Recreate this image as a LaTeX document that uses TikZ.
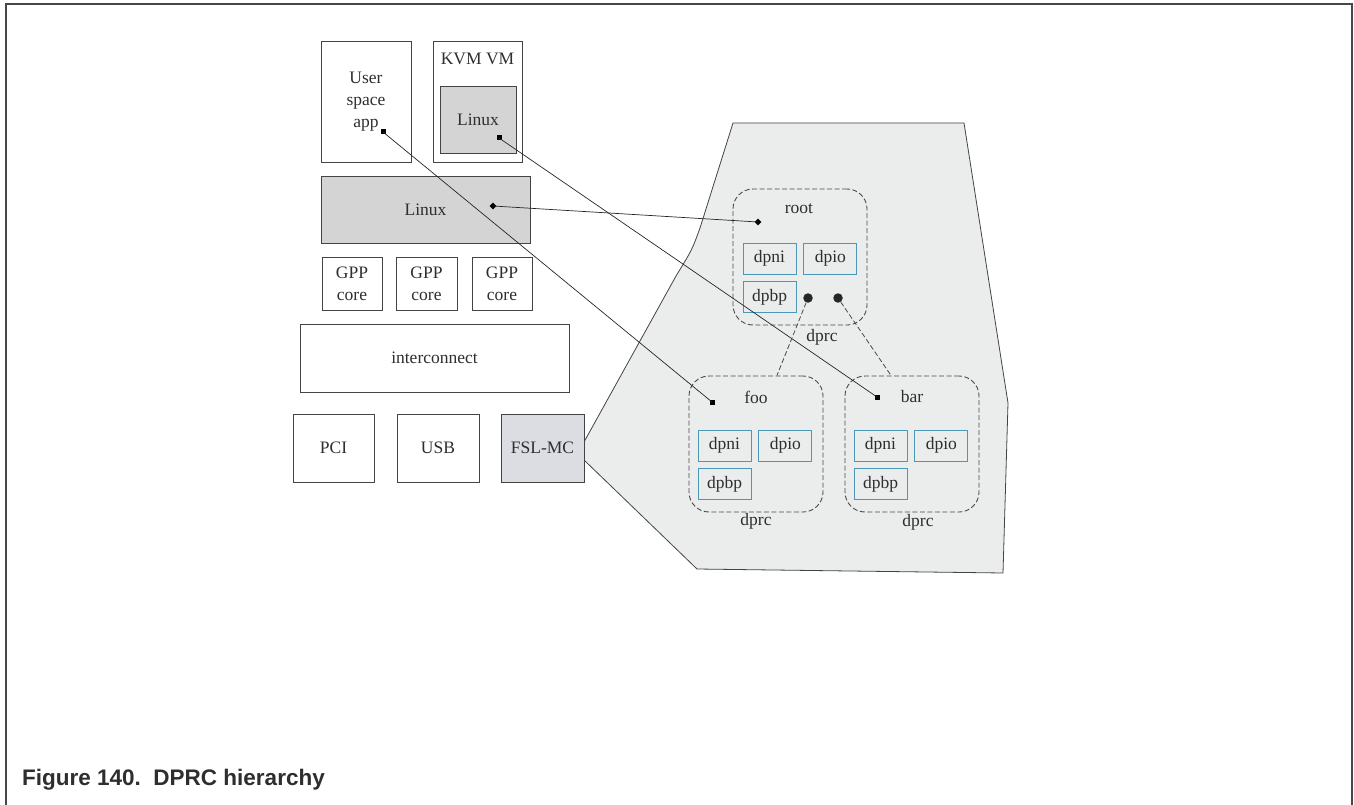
\documentclass[tikz,border=0pt]{standalone}
\usepackage{fontspec}
\setmainfont{Liberation Serif}
\newfontfamily\captionfont{Liberation Sans}
\usetikzlibrary{shapes.geometric, positioning}

\definecolor{linegray}{HTML}{444444}
\definecolor{textgray}{HTML}{2E2E2E}
\definecolor{linuxgray}{HTML}{D4D4D4}
\definecolor{fslgray}{HTML}{DCDDE2}
\definecolor{areagray}{HTML}{EBECEC}
\definecolor{dashgray}{HTML}{4A4A4A}
\definecolor{objblue}{HTML}{4A97B6}
\definecolor{framegray}{HTML}{474747}

\tikzstyle{block} = [
    rectangle,
    draw=linegray,
    line width=0.8pt,
    inner sep=0pt,
    align=center,
    text=textgray
]
\tikzstyle{grayblock} = [block, fill=linuxgray]
\tikzstyle{container} = [
    rectangle,
    rounded corners=20pt,
    draw=dashgray,
    dash pattern=on 5pt off 2.5pt,
    line width=0.9pt,
    minimum width=134pt,
    minimum height=136pt
]
\tikzstyle{obj} = [
    rectangle,
    draw=objblue,
    line width=0.9pt,
    minimum width=53pt,
    minimum height=31pt,
    inner sep=0pt,
    text=textgray
]
\tikzstyle{label} = [text=textgray, inner sep=0pt]
\tikzstyle{endmark} = [rectangle, fill=black, minimum size=5pt, inner sep=0pt]
\tikzstyle{endmarkd} = [diamond, fill=black, minimum size=7pt, inner sep=0pt]
\tikzstyle{joint} = [circle, fill=black!85, minimum size=9.5pt, inner sep=0pt]
\tikzstyle{link} = [line width=0.7pt, draw=black!85]
\tikzstyle{sublink} = [line width=0.8pt, draw=dashgray, dash pattern=on 5pt off 2.5pt]

\begin{document}
\begin{tikzpicture}[x=1pt, y=-1pt, node distance=7pt,
    font=\fontsize{17.5}{22}\selectfont]

\useasboundingbox (0,0) rectangle (1354,805);

% page frame
\draw[framegray, line width=2pt] (6,805) -- (6,4) -- (1352,4) -- (1352,805);

% management complex area
\fill[areagray, draw=linegray, line width=0.8pt]
    (733,123) -- (964,123) -- (1008,403) -- (1003,573) -- (697,569)
    -- (584,460) -- (584,442) -- (676,276)
    .. controls (692,250) .. (700,228) -- cycle;

% software stack
\node (app) [block, minimum width=90pt, minimum height=121pt] at (366,101.5)
{User\\space\\app};
\node (kvm) [block, minimum width=89pt, minimum height=121pt] at (477.5,101.5) {};
\node (kvmname) [label] at (477.5,59) {KVM VM};
\node (guest) [grayblock, minimum width=76pt, minimum height=67pt] at (478,119.5)
{Linux};
\node (host) [grayblock, minimum width=209pt, minimum height=67pt] at (425.5,209.5)
{Linux};

% hardware
\node (core1) [block, minimum width=60pt, minimum height=53pt] at (352,283.5)
{GPP\\core};
\node (core2) [block, minimum width=61pt, minimum height=53pt] at (426.5,283.5)
{GPP\\core};
\node (core3) [block, minimum width=60pt, minimum height=53pt] at (502,283.5)
{GPP\\core};
\node (interconnect) [block, minimum width=269pt, minimum height=68pt] at (434.5,358)
{interconnect};
\node (pci) [block, minimum width=81pt, minimum height=68pt] at (333.5,448) {PCI};
\node (usb) [block, minimum width=82pt, minimum height=68pt] at (438,448) {USB};
\node (fslmc) [block, fill=fslgray, minimum width=83pt, minimum height=68pt]
at (542.5,448) {FSL-MC};

% root container
\node (root) [container] at (800,257) {};
\node (rootname) [label] at (799,209) {root};
\node (rootdpni) [obj] at (769.5,258.5) {dpni};
\node (rootdpio) [obj, right=of rootdpni] {dpio};
\node (rootdpbp) [obj, below=of rootdpni] {dpbp};
\node (jfoo) [joint] at (808,298) {};
\node (jbar) [joint] at (838,298) {};
\node (rootcap) [label] at (822,337) {dprc};

% foo container
\node (foo) [container] at (756,444) {};
\node (fooname) [label] at (756,397) {foo};
\node (foodpni) [obj] at (724.5,445.5) {dpni};
\node (foodpio) [obj, right=of foodpni] {dpio};
\node (foodpbp) [obj, below=of foodpni] {dpbp};
\node (foocap) [label] at (756,521) {dprc};

% bar container
\node (bar) [container] at (912,444) {};
\node (barname) [label] at (912,397) {bar};
\node (bardpni) [obj] at (880.5,445.5) {dpni};
\node (bardpio) [obj, right=of bardpni] {dpio};
\node (bardpbp) [obj, below=of bardpni] {dpbp};
\node (barcap) [label] at (918,522) {dprc};

% end marks
\node (appdot) [endmark] at (383,132) {};
\node (guestdot) [endmark] at (499,138) {};
\node (hostdot) [endmarkd] at (493,206) {};
\node (rootdot) [endmarkd] at (758,222) {};
\node (foodot) [endmark] at (712,402) {};
\node (bardot) [endmark] at (877,397) {};

% connections
\draw [link] (hostdot.center) -- (rootdot.center);
\draw [link] (appdot.center) -- (foodot.center);
\draw [link] (guestdot.center) -- (bardot.center);
\draw [sublink] (jfoo) -- (foo.73);
\draw [sublink] (jbar) -- (bar.107);

% caption
\node (caption) [anchor=base west, inner sep=0pt, text=textgray,
    font=\captionfont\bfseries\fontsize{22.5}{26}\selectfont] at (22,785)
{Figure 140.\hspace{12.5pt}DPRC hierarchy};

\end{tikzpicture}
\end{document}
